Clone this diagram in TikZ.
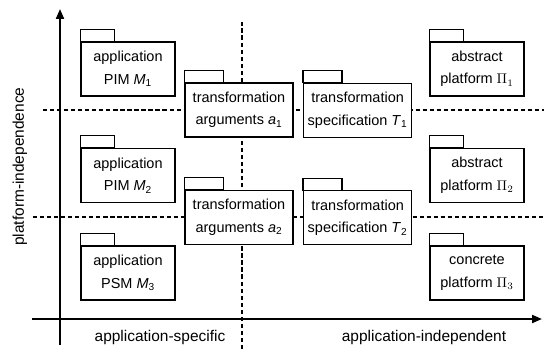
\documentclass[tikz,border=0pt]{standalone}
\usepackage{fontspec}
\setmainfont{Liberation Sans}
\usepackage{tikz}
\usetikzlibrary{arrows.meta,positioning,calc}

\tikzset{
  pkg/.style={draw, fill=white, line width=0.8pt, minimum width=2.35cm, minimum height=1.35cm,
    inner sep=1pt, align=center, font=\fontsize{10.3}{16}\selectfont},
  trf/.style={pkg, minimum width=2.7cm},
  axis/.style={line width=1.4pt, -{Triangle[length=2.5mm,width=2mm]}},
  sep/.style={line width=0.8pt, dash pattern=on 3pt off 2pt},
  lbl/.style={font=\fontsize{11}{12}\selectfont}
}

\begin{document}
\begin{tikzpicture}
\useasboundingbox (0,0) rectangle (13.6,8.725);

% separators
\draw[sep] (6.05,0) -- (6.05,8.175);
\draw[sep] (1.075,5.975) -- (13.6,5.975);
\draw[sep] (0.825,3.3) -- (13.6,3.3);

% axes
\coordinate (ybot) at (1.5,0.1);
\coordinate (ytop) at (1.5,8.5);
\coordinate (xleft) at (0.8,0.75);
\coordinate (xright) at (13.55,0.75);
\draw[axis] (ybot) -- (ytop);
\draw[axis] (xleft) -- (xright);

\draw (0.5,4.56) node[lbl,rotate=90] (pi) {platform-independence};
\draw (4.0,0.275) node[lbl] (as) {application-specific};
\draw (10.6,0.275) node[lbl] (ai) {application-independent};

% models
\draw (3.2,7.0) node[pkg] (m1) {application\\PIM \textit{M}\textsubscript{1}};
\draw (3.2,4.34) node[pkg] (m2) {application\\PIM \textit{M}\textsubscript{2}};
\draw (3.2,1.9) node[pkg] (m3) {application\\PSM \textit{M}\textsubscript{3}};

% transformations
\draw (5.975,5.975) node[trf] (a1) {transformation\\arguments \textit{a}\textsubscript{1}};
\draw (5.975,3.29) node[trf] (a2) {transformation\\arguments \textit{a}\textsubscript{2}};
\draw (8.94,5.965) node[trf] (t1) {transformation\\specification \textit{T}\textsubscript{1}};
\draw (8.94,3.28) node[trf] (t2) {transformation\\specification \textit{T}\textsubscript{2}};

% platforms
\draw (11.925,7.0) node[pkg] (p1) {abstract\\platform $\Pi_1$};
\draw (11.925,4.34) node[pkg] (p2) {abstract\\platform $\Pi_2$};
\draw (11.925,1.9) node[pkg] (p3) {concrete\\platform $\Pi_3$};

% tabs
\foreach \n in {m1,m2,m3,p1,p2,p3}
  \draw[line width=0.8pt, fill=white] (\n.north west) rectangle ++(0.85,0.3);
\foreach \n in {a1,a2,t1,t2}
  \draw[line width=0.8pt, fill=white] (\n.north west) rectangle ++(0.975,0.3);

\end{tikzpicture}
\end{document}
